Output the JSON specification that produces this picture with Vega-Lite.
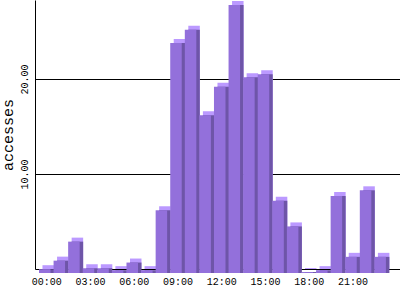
{
  "$schema": "https://vega.github.io/schema/vega-lite/v6.json",
  "width": 365,
  "height": 269,
  "autosize": {"type": "none"},
  "padding": {"left": 35, "top": 0, "right": 0, "bottom": 31},
  "background": "white",
  "config": {
    "view": {"stroke": null},
    "axis": {"labelFont": "Liberation Mono", "titleFont": "Liberation Mono", "labelColor": "black", "titleColor": "black", "domainColor": "black", "domainWidth": 1}
  },
  "data": {
    "values": [
      {"hour": "00:00", "accesses": 0.4},
      {"hour": "01:00", "accesses": 1.3},
      {"hour": "02:00", "accesses": 3.3},
      {"hour": "03:00", "accesses": 0.5},
      {"hour": "04:00", "accesses": 0.5},
      {"hour": "05:00", "accesses": 0.3},
      {"hour": "06:00", "accesses": 1.1},
      {"hour": "07:00", "accesses": 0.3},
      {"hour": "08:00", "accesses": 6.6},
      {"hour": "09:00", "accesses": 24.2},
      {"hour": "10:00", "accesses": 25.6},
      {"hour": "11:00", "accesses": 16.6},
      {"hour": "12:00", "accesses": 19.6},
      {"hour": "13:00", "accesses": 28.2},
      {"hour": "14:00", "accesses": 20.6},
      {"hour": "15:00", "accesses": 20.9},
      {"hour": "16:00", "accesses": 7.6},
      {"hour": "17:00", "accesses": 4.9},
      {"hour": "18:00", "accesses": 0.1},
      {"hour": "19:00", "accesses": 0.3},
      {"hour": "20:00", "accesses": 8.1},
      {"hour": "21:00", "accesses": 1.7},
      {"hour": "22:00", "accesses": 8.7},
      {"hour": "23:00", "accesses": 1.7}
    ]
  },
  "encoding": {
    "x": {
      "field": "hour", "type": "ordinal", "sort": null,
      "scale": {"paddingInner": 0.211, "paddingOuter": 0.62, "align": 0.22},
      "axis": {
        "title": null, "values": ["00:00", "03:00", "06:00", "09:00", "12:00", "15:00", "18:00", "21:00"],
        "ticks": false, "labelAngle": 0, "labelFontSize": 10, "labelPadding": 7, "labelOffset": 2, "labelBaseline": "top"
      }
    },
    "y": {
      "field": "accesses", "type": "quantitative",
      "scale": {"domain": [0, 28.3], "nice": false},
      "axis": {
        "title": "accesses", "titleFontSize": 15, "titleFontWeight": "normal", "titlePadding": 4,
        "values": [10, 20], "format": ".2f", "ticks": false,
        "grid": true, "gridColor": "black", "gridOpacity": 1, "gridWidth": 1,
        "labelAngle": 270, "labelAlign": "center", "labelBaseline": "bottom", "labelFontSize": 10, "labelPadding": 6
      }
    }
  },
  "layer": [
    {"mark": {"type": "bar", "color": "#BB99FF", "xOffset": 3.5, "yOffset": 0}},
    {"mark": {"type": "bar", "color": "#6E55A8", "xOffset": 3.5, "yOffset": 4}},
    {"mark": {"type": "bar", "color": "#9370DB", "xOffset": 0, "yOffset": 4}}
  ]
}
